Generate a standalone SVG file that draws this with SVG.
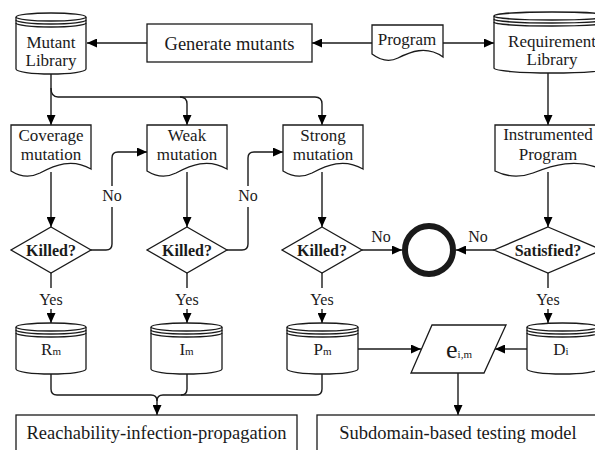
<svg xmlns="http://www.w3.org/2000/svg" width="595" height="450" viewBox="0 0 595 450" font-family="'Liberation Serif', 'DejaVu Serif', 'Times New Roman', serif">
<defs>
<marker id="ah" markerUnits="userSpaceOnUse" markerWidth="11" markerHeight="9" refX="10" refY="4.5" orient="auto">
<path d="M0,0 L10,4.5 L0,9 Z" fill="#000"/>
</marker>
<style>
.n{fill:#fff;stroke:#1a1a1a;stroke-width:1.3}
.l{fill:none;stroke:#1a1a1a;stroke-width:1.4}
.a{fill:none;stroke:#1a1a1a;stroke-width:1.4;marker-end:url(#ah)}
text{font-family:'Liberation Serif','DejaVu Serif','Times New Roman',serif;fill:#1a1a1a;text-anchor:middle}
.t{font-size:17px}
.b{font-size:18.5px}
.k{font-size:16px;font-weight:bold}
.s{font-size:16px}
.sub{font-size:11px}
</style>
</defs>
<rect width="595" height="450" fill="#fff"/>

<g id="connectors">
<path class="a" d="M147,43 H87"/>
<path class="a" d="M372,43 H312"/>
<path class="a" d="M443,43 H494"/>
<path class="a" d="M51,74 V125"/>
<path class="a" d="M51,88 Q51,97 58,97 H180 Q187,97 187,104 V125"/>
<path class="a" d="M180,97 H315 Q322,97 322,104 V125"/>
<path class="a" d="M548,73 V125"/>
<path class="a" d="M51,172 V227"/>
<path class="a" d="M187,172 V227"/>
<path class="a" d="M322,172 V227"/>
<path class="a" d="M548,172 V227"/>
<path class="l" d="M91,250 H106 Q112,250 112,244 V207"/>
<path class="a" d="M112,186 V158 Q112,152 118,152 H147"/>
<path class="l" d="M227,250 H242 Q248,250 248,244 V207"/>
<path class="a" d="M248,186 V158 Q248,152 254,152 H283"/>
<path class="a" d="M362,250 H402"/>
<path class="a" d="M494,250 H456"/>
<path class="l" d="M51,273 V288"/>
<path class="a" d="M51,309 V323"/>
<path class="l" d="M187,273 V288"/>
<path class="a" d="M187,309 V323"/>
<path class="l" d="M322,273 V288"/>
<path class="a" d="M322,309 V323"/>
<path class="l" d="M548,273 V288"/>
<path class="a" d="M548,309 V323"/>
<path class="a" d="M358,349 H421"/>
<path class="a" d="M527,349 H495"/>
<path class="a" d="M458,373 V415"/>
<path class="a" d="M51,374 V389 Q51,395 57,395 H151 Q157,395 157,401 V415"/>
<path class="l" d="M187,374 V389 Q187,395 181,395 H163 Q157,395 157,401"/>
<path class="l" d="M322,374 V389 Q322,395 316,395 H181"/>
</g>

<g id="mutant-library">
<path class="n" d="M16,17 V69 A35,5 0 0 0 86,69 V17"/>
<ellipse class="n" cx="51" cy="17" rx="35" ry="4"/>
<path class="l" d="M16,20 A35,4 0 0 0 86,20 M16,23 A35,4 0 0 0 86,23"/>
<text class="t" x="51" y="48">Mutant</text>
<text class="t" x="51" y="66">Library</text>
</g>

<g id="generate-mutants">
<rect class="n" x="147" y="24" width="165" height="38"/>
<text class="b" x="229.5" y="50">Generate mutants</text>
</g>

<g id="program">
<path class="n" d="M372,25 H443 V57 C426,45 410,52 398,58 C388,63 380,60 372,54 Z"/>
<text class="t" x="407" y="45">Program</text>
</g>

<g id="requirement-library">
<path class="n" d="M494,16 V68 A58,5 0 0 0 610,68 V16"/>
<ellipse class="n" cx="552" cy="16" rx="58" ry="4"/>
<path class="l" d="M494,19 A58,4 0 0 0 610,19 M494,22 A58,4 0 0 0 610,22"/>
<text class="t" x="552" y="47">Requirement</text>
<text class="t" x="552" y="65">Library</text>
</g>

<g id="coverage-mutation">
<path class="n" d="M11,125 H91 V169 C72,158 55,165 40,173 C28,179 19,176 11,171 Z"/>
<text class="t" x="51" y="141">Coverage</text>
<text class="t" x="51" y="160">mutation</text>
</g>

<g id="weak-mutation">
<path class="n" d="M147,125 H227 V169 C208,158 191,165 176,173 C164,179 155,176 147,171 Z"/>
<text class="t" x="187" y="141">Weak</text>
<text class="t" x="187" y="160">mutation</text>
</g>

<g id="strong-mutation">
<path class="n" d="M283,125 H363 V169 C344,158 327,165 312,173 C300,179 291,176 283,171 Z"/>
<text class="t" x="323" y="141">Strong</text>
<text class="t" x="323" y="160">mutation</text>
</g>

<g id="instrumented-program">
<path class="n" d="M495,125 H601 V169 C576,158 553,165 533,173 C517,179 505,176 495,171 Z"/>
<text class="t" x="548" y="140">Instrumented</text>
<text class="t" x="548" y="160">Program</text>
</g>

<g id="killed-1">
<path class="n" d="M51,227 L91,250 L51,273 L11,250 Z"/>
<text class="k" x="51" y="256">Killed?</text>
</g>
<g id="killed-2">
<path class="n" d="M187,227 L227,250 L187,273 L147,250 Z"/>
<text class="k" x="187" y="256">Killed?</text>
</g>
<g id="killed-3">
<path class="n" d="M322,227 L362,250 L322,273 L282,250 Z"/>
<text class="k" x="322" y="256">Killed?</text>
</g>
<g id="satisfied">
<path class="n" d="M548,227 L602,250 L548,273 L494,250 Z"/>
<text class="k" x="548" y="256">Satisfied?</text>
</g>

<g id="end">
<circle cx="429" cy="250" r="24" fill="#fff" stroke="#1a1a1a" stroke-width="6"/>
</g>

<g id="labels">
<text class="s" x="112" y="201">No</text>
<text class="s" x="248" y="201">No</text>
<text class="s" x="381" y="242">No</text>
<text class="s" x="478" y="242">No</text>
<text class="s" x="51" y="305">Yes</text>
<text class="s" x="187" y="305">Yes</text>
<text class="s" x="322" y="305">Yes</text>
<text class="s" x="548" y="305">Yes</text>
</g>

<g id="rm">
<path class="n" d="M16,327 V369 A35,5 0 0 0 86,369 V327"/>
<ellipse class="n" cx="51" cy="327" rx="35" ry="4"/>
<path class="l" d="M16,330 A35,4 0 0 0 86,330 M16,333 A35,4 0 0 0 86,333"/>
<text x="51" y="355"><tspan class="t">R</tspan><tspan class="sub">m</tspan></text>
</g>
<g id="im">
<path class="n" d="M151,327 V369 A35.5,5 0 0 0 222,369 V327"/>
<ellipse class="n" cx="186.5" cy="327" rx="35.5" ry="4"/>
<path class="l" d="M151,330 A35.5,4 0 0 0 222,330 M151,333 A35.5,4 0 0 0 222,333"/>
<text x="186.5" y="355"><tspan class="t">I</tspan><tspan class="sub">m</tspan></text>
</g>
<g id="pm">
<path class="n" d="M287,327 V369 A35.5,5 0 0 0 358,369 V327"/>
<ellipse class="n" cx="322.5" cy="327" rx="35.5" ry="4"/>
<path class="l" d="M287,330 A35.5,4 0 0 0 358,330 M287,333 A35.5,4 0 0 0 358,333"/>
<text x="322.5" y="355"><tspan class="t">P</tspan><tspan class="sub">m</tspan></text>
</g>
<g id="di">
<path class="n" d="M527,327 V369 A35.5,5 0 0 0 598,369 V327"/>
<ellipse class="n" cx="562.5" cy="327" rx="35.5" ry="4"/>
<path class="l" d="M527,330 A35.5,4 0 0 0 598,330 M527,333 A35.5,4 0 0 0 598,333"/>
<text x="561" y="355"><tspan class="t">D</tspan><tspan class="sub">i</tspan></text>
</g>

<g id="eim">
<path class="n" d="M432,325 H506 L484,373 H411 Z"/>
<text x="459" y="358"><tspan style="font-size:26px">e</tspan><tspan class="sub">i,m</tspan></text>
</g>

<g id="rip">
<rect class="n" x="16" y="415" width="281" height="45"/>
<text class="b" x="156.5" y="439">Reachability-infection-propagation</text>
</g>
<g id="subdomain">
<rect class="n" x="317" y="415" width="290" height="45"/>
<text class="b" x="458" y="439">Subdomain-based testing model</text>
</g>
</svg>
